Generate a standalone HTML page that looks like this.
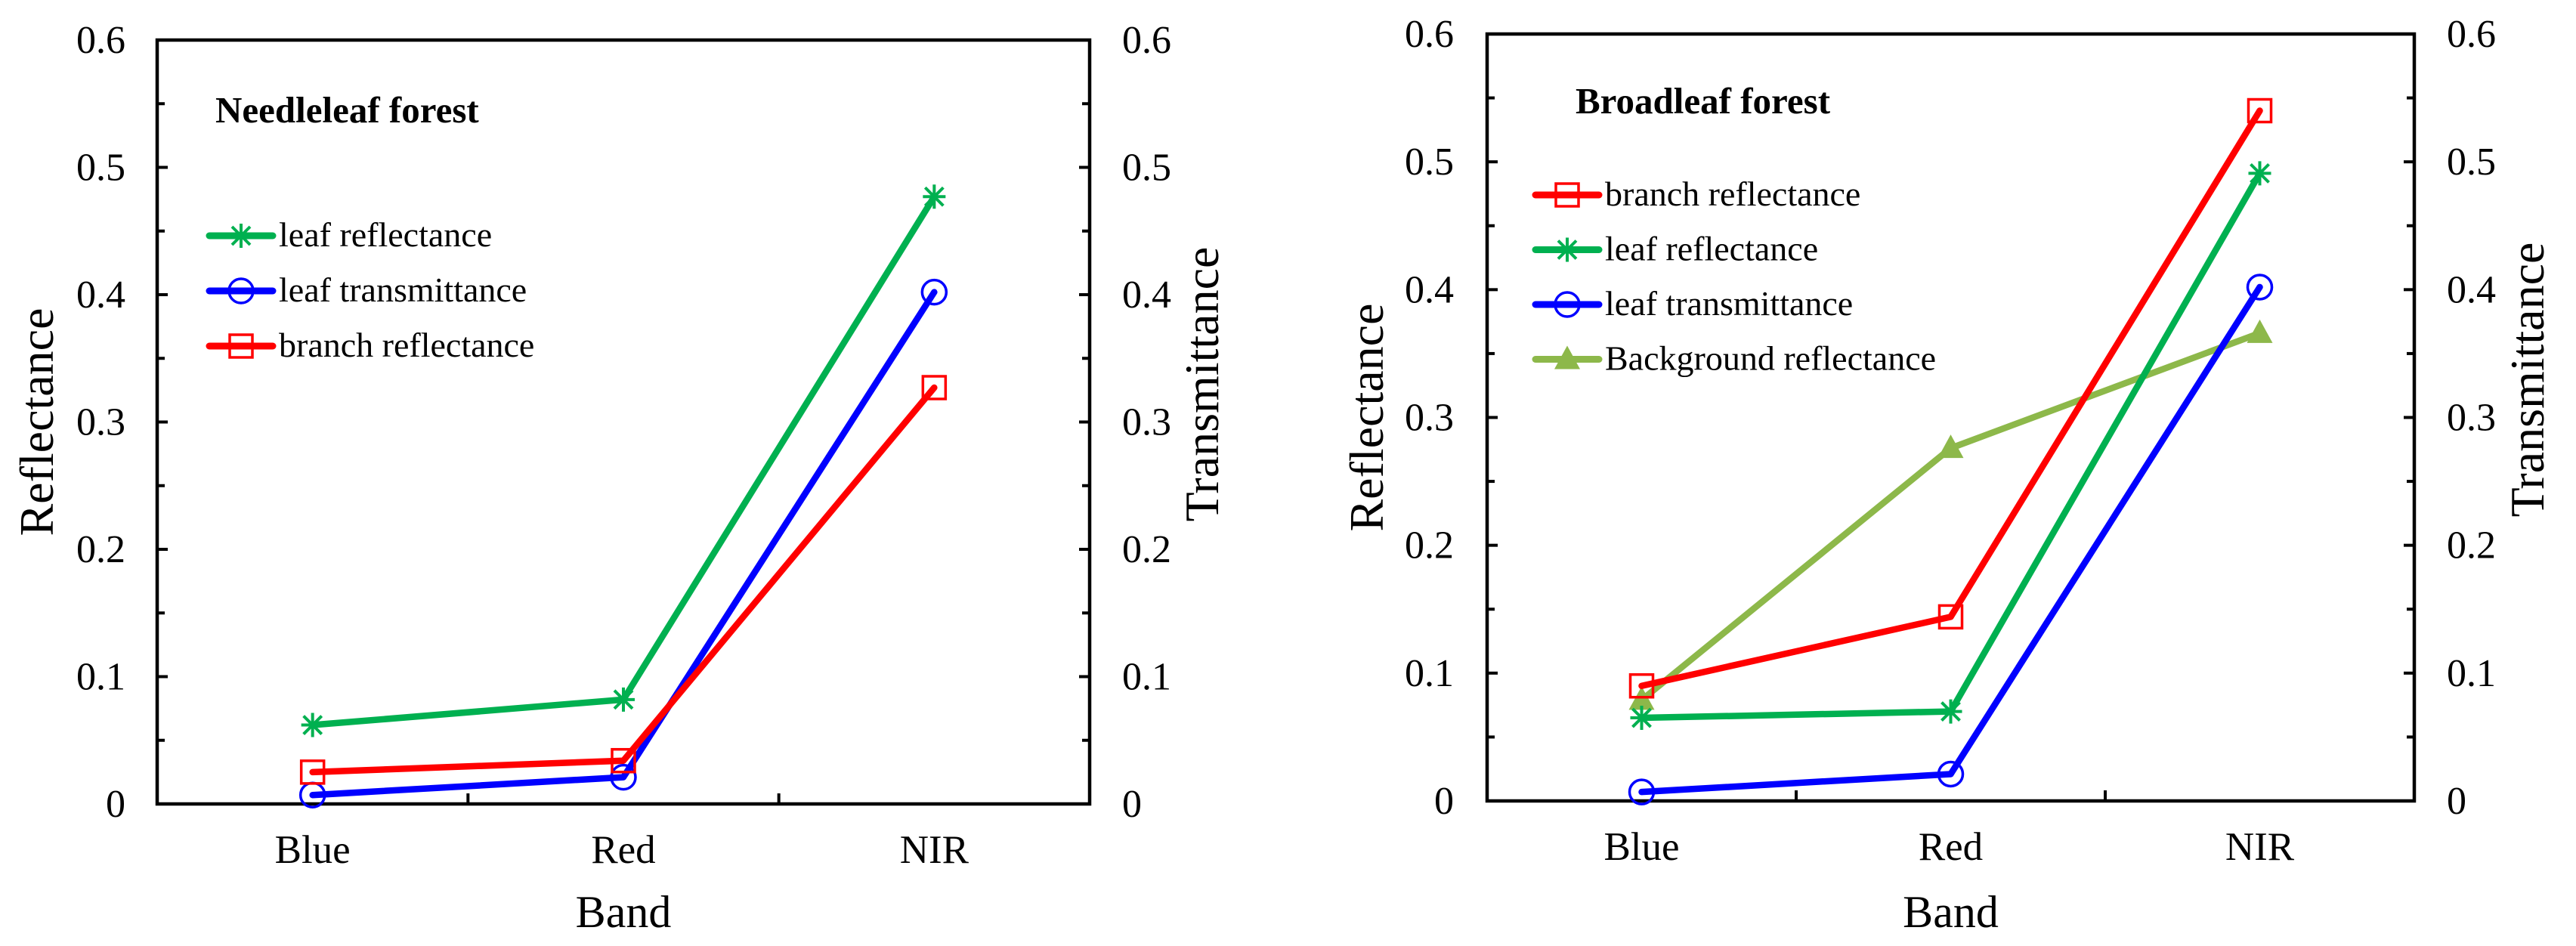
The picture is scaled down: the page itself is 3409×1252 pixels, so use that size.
<!DOCTYPE html>
<html><head><meta charset="utf-8"><style>
html,body{margin:0;padding:0;background:#fff;}
svg{display:block;}
text{font-family:"Liberation Serif","Times New Roman",serif;}
</style></head><body>
<svg id="svg" width="3409" height="1252" viewBox="0 0 3409 1252" xmlns="http://www.w3.org/2000/svg" font-family="Liberation Serif, serif"></svg>
<script>
const categories = ["Blue","Red","NIR"];
const yTicks = [0,0.1,0.2,0.3,0.4,0.5,0.6];
const yTickLabels = ["0","0.1","0.2","0.3","0.4","0.5","0.6"];
// Needleleaf
const needleLeafRefl = [0.062,0.082,0.477];
const needleLeafTrans = [0.007,0.021,0.402];
const needleBranchRefl = [0.025,0.034,0.327];
// Broadleaf
const broadBranchRefl = [0.090,0.144,0.540];
const broadLeafRefl = [0.065,0.070,0.491];
const broadLeafTrans = [0.007,0.021,0.402];
const broadBgRefl = [0.079,0.276,0.366];

const NS="http://www.w3.org/2000/svg";
const svg=document.getElementById('svg');
function mk(tag,attrs,parent){const e=document.createElementNS(NS,tag);for(const k in attrs)e.setAttribute(k,attrs[k]);(parent||svg).appendChild(e);return e;}
function txt(s,attrs,parent){attrs['font-family']='Liberation Serif, serif';const e=mk('text',attrs,parent);e.textContent=s;return e;}

const COLORS={green:"#00b050",blue:"#0000ff",red:"#ff0000",bg:"#8db84a"};

function marker(g,type,x,y,color){
  if(type==='square'){return mk('rect',{x:x-15,y:y-15,width:30,height:30,fill:'none',stroke:color,'stroke-width':3.5},g);}
  if(type==='circle'){return mk('circle',{cx:x,cy:y,r:16,fill:'none',stroke:color,'stroke-width':3.5},g);}
  if(type==='star'){return mk('path',{d:`M${x-15},${y}H${x+15}M${x},${y-16}V${y+16}M${x-12},${y-12}L${x+12},${y+12}M${x-12},${y+12}L${x+12},${y-12}`,stroke:color,'stroke-width':4,fill:'none'},g);}
  if(type==='tri'){return mk('path',{d:`M${x},${y-18}L${x+17},${y+13}L${x-17},${y+13}Z`,fill:color},g);}
}

function chart(cfg){
  const g=mk('g',{});
  
  
  const L=cfg.L,R=cfg.R,T=cfg.T,B=cfg.B;
  const cw=(R-L)/categories.length;
  const xs=i=>L+cw*(i+0.5);
  const ys=v=>B-(v/0.6)*(B-T);
  for(let k=0;k<=12;k++){
    const v=k*0.05,y=ys(v),len=(k%2===0)?14:10;
    mk('line',{x1:L,y1:y,x2:L+len,y2:y,stroke:'#000','stroke-width':4},g);
    mk('line',{x1:R,y1:y,x2:R-len,y2:y,stroke:'#000','stroke-width':4},g);
  }
  yTicks.forEach((v,i)=>{
    const t1=txt(yTickLabels[i],{x:cfg.lblL,y:ys(v)+17,'font-size':52,'text-anchor':'end'},g);
    
    
    const t2=txt(yTickLabels[i],{x:cfg.lblR,y:ys(v)+17,'font-size':52,'text-anchor':'start'},g);
    
    
  });
  for(let i=1;i<categories.length;i++){
    mk('line',{x1:L+cw*i,y1:B,x2:L+cw*i,y2:B-14,stroke:'#000','stroke-width':4},g);
  }
  categories.forEach((c,i)=>{
    const t=txt(c,{x:xs(i),y:B+78,'font-size':53,'text-anchor':'middle'},g);
    
    
  });
  const box=mk('rect',{x:L,y:T,width:R-L,height:B-T,fill:'none',stroke:'#000','stroke-width':4.5},g);
  
  
  const xt=txt('Band',{x:(L+R)/2,y:1227,'font-size':60,'text-anchor':'middle'},g);
  
  
  const yt=txt('Reflectance',{x:0,y:0,'font-size':64,'text-anchor':'middle',transform:`translate(${cfg.ytX},${(T+B)/2}) rotate(-90)`},g);
  
  
  const yt2=txt('Transmittance',{x:0,y:0,'font-size':64,'text-anchor':'middle',transform:`translate(${cfg.yt2X},${(T+B)/2-50}) rotate(-90)`},g);
  
  
  const tt=txt(cfg.title,{x:cfg.titleX,y:cfg.titleY,'font-size':49,'font-weight':'bold'},g);
  
  
  cfg.series.forEach(s=>{
    const sg=mk('g',{},g);
    
    
    const pts=s.data.map((v,i)=>xs(i)+','+ys(v)).join(' ');
    mk('polyline',{points:pts,fill:'none',stroke:s.color,'stroke-width':8.5,'stroke-linecap':'round','stroke-linejoin':'round'},sg);
    s.data.forEach((v,i)=>{
      const m=marker(sg,s.marker,xs(i),ys(v),s.color);
      
      
    });
  });
  cfg.series.slice().sort((a,b)=>a.order-b.order).forEach((s,j)=>{
    const lg=mk('g',{},g);
    
    
    const y=cfg.legY+j*cfg.legStep;
    mk('line',{x1:cfg.legX,y1:y-14,x2:cfg.legX+84,y2:y-14,stroke:s.color,'stroke-width':9,'stroke-linecap':'round'},lg);
    marker(lg,s.marker,cfg.legX+42,y-14,s.color);
    txt(s.label,{x:cfg.legX+92,y:y,'font-size':46},lg);
  });
}

chart({name:'needleleaf-chart',L:208,R:1442,T:53,B:1064,lblL:166,lblR:1485,ytX:70,yt2X:1612,
  title:'Needleleaf forest',titleX:285,titleY:162,legX:277,legY:326,legStep:73,
  series:[
    {key:'leaf-reflectance',label:'leaf reflectance',data:needleLeafRefl,color:COLORS.green,marker:'star',order:0},
    {key:'leaf-transmittance',label:'leaf transmittance',data:needleLeafTrans,color:COLORS.blue,marker:'circle',order:1},
    {key:'branch-reflectance',label:'branch reflectance',data:needleBranchRefl,color:COLORS.red,marker:'square',order:2}
  ]});
chart({name:'broadleaf-chart',L:1968,R:3195,T:45,B:1060,lblL:1924,lblR:3238,ytX:1830,yt2X:3366,
  title:'Broadleaf forest',titleX:2085,titleY:150,legX:2032,legY:272,legStep:72.5,
  series:[
    {key:'background-reflectance',label:'Background reflectance',data:broadBgRefl,color:COLORS.bg,marker:'tri',order:3},
    {key:'branch-reflectance',label:'branch reflectance',data:broadBranchRefl,color:COLORS.red,marker:'square',order:0},
    {key:'leaf-reflectance',label:'leaf reflectance',data:broadLeafRefl,color:COLORS.green,marker:'star',order:1},
    {key:'leaf-transmittance',label:'leaf transmittance',data:broadLeafTrans,color:COLORS.blue,marker:'circle',order:2}
  ]});
</script>
</body></html>
